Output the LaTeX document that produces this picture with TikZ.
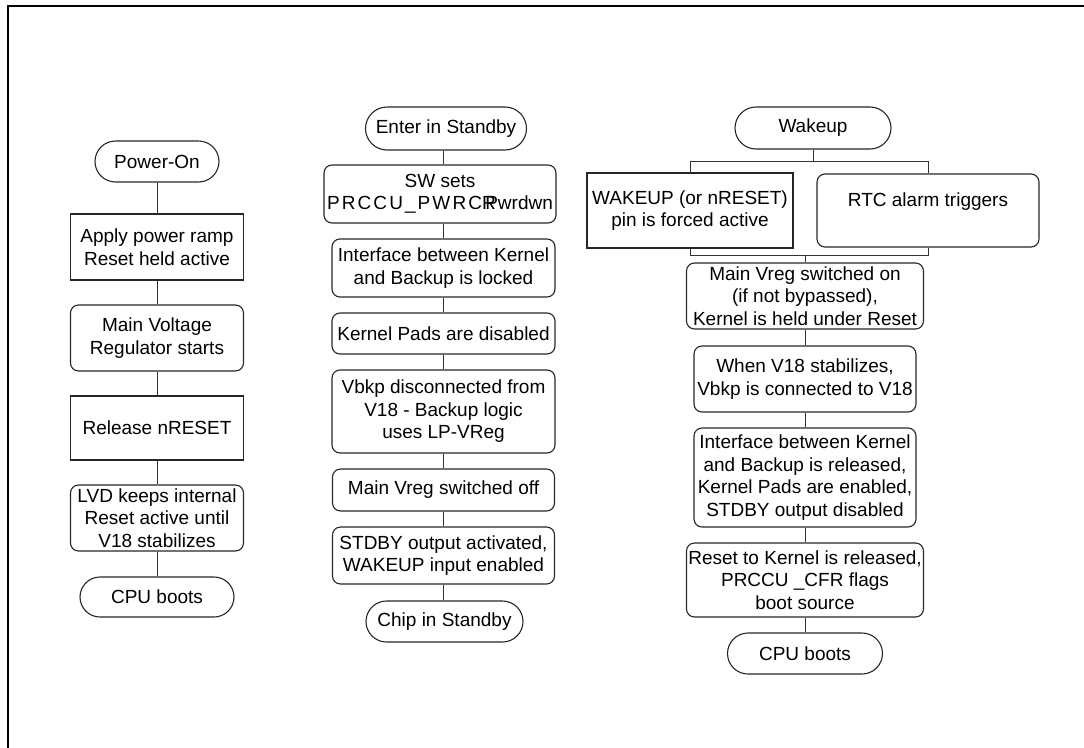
\documentclass[tikz,border=0pt]{standalone}
\usepackage{fontspec}
\setmainfont{Liberation Sans}
\usetikzlibrary{shapes.misc}
\begin{document}
\begin{tikzpicture}[x=1pt,y=-1pt,
  txt/.style={font=\fontsize{19}{22.5}\selectfont, align=center, inner sep=0pt,
    line width=1.1pt, draw=black!85, text=black},
  size/.style 2 args={minimum width=#1pt, minimum height=#2pt},
  sqbox/.style={txt, rectangle},
  rbox/.style={txt, rectangle, rounded corners=8pt},
  term/.style={txt, rounded rectangle},
  link/.style={line width=1pt, draw=black!80}]
\useasboundingbox (0,0) rectangle (1084,747);

% outer frame
\draw[line width=2.5pt] (8,748) -- (8,6) -- (1085,6);

% ---------- power-on sequence ----------
\node[term,  size={124}{41}] (pon)  at (157,161.5) {Power-On};
\node[sqbox, size={173}{66}] (ramp) at (157,247)   {Apply power ramp\\Reset held active};
\node[rbox,  size={173}{66}] (mvr)  at (157,338)   {Main Voltage\\Regulator starts};
\node[sqbox, size={173}{64}] (rel)  at (157,428)   {Release nRESET};
\node[rbox,  size={173}{66}] (lvd)  at (157,518)   {LVD keeps internal\\Reset active until\\V18 stabilizes};
\node[term,  size={154}{40}] (cpua) at (157,597)   {CPU boots};

\foreach \a/\b in {pon/ramp, ramp/mvr, mvr/rel, rel/lvd, lvd/cpua}
  \draw[link] (\a.south) -- (\b.north);

% ---------- standby entry ----------
\node[term, size={161}{43}] (ens) at (446,128.5) {Enter in Standby};
\node[rbox, size={232}{58}] (sw)  at (440,194)
  {SW sets\\{\addfontfeature{LetterSpace=11}PRCCU\_PWRC}R\kern-0.55em Pwrdwn};
\node[rbox, size={223}{58}] (ifl) at (443.5,268)   {Interface between Kernel\\and Backup is locked};
\node[rbox, size={223}{41}] (kpd) at (443.5,333.5) {Kernel Pads are disabled};
\node[rbox, size={223}{83}] (vbk) at (443.5,411.5) {Vbkp disconnected from\\V18 - Backup logic\\uses LP-VReg};
\node[rbox, size={222}{42}] (mvo) at (443.5,490)   {Main Vreg switched off};
\node[rbox, size={222}{57}] (stb) at (443.5,555.5) {STDBY output activated,\\WAKEUP input enabled};
\node[term, size={157}{41}] (cis) at (444.5,621.5) {Chip in Standby};

\draw[link] (ens.south -| ifl.north) -- (ifl.north |- sw.north);
\foreach \a/\b in {sw/ifl, ifl/kpd, kpd/vbk, vbk/mvo, mvo/stb, stb/cis}
  \draw[link] (\a.south -| ifl.north) -- (\b.north -| ifl.north);

% ---------- wakeup sequence ----------
\node[term,  size={156}{42}] (wak) at (813,128) {Wakeup};
\node[sqbox, size={206}{75}] (wup) at (690,210.5) {WAKEUP (or nRESET)\\pin is forced active};
\node[rbox,  size={222}{73}] (rtc) at (928,210.5) {RTC alarm triggers\\\mbox{}};
\node[rbox,  size={237}{66}] (mvs) at (805,296)   {Main Vreg switched on\\(if not bypassed),\\Kernel is held under Reset};
\node[rbox,  size={222}{66}] (v18) at (805,379)   {When V18 stabilizes,\\Vbkp is connected to V18};
\node[rbox,  size={222}{99}] (ifr) at (805,477.5) {Interface between Kernel\\and Backup is released,\\Kernel Pads are enabled,\\STDBY output disabled};
\node[rbox,  size={237}{74}] (rtk) at (805,580)   {Reset to Kernel is released,\\PRCCU \_CFR flags\\boot source};
\node[term,  size={155}{41}] (cpub) at (805,653.5) {CPU boots};

% split and merge of the two wakeup sources
\coordinate (split) at (813,161);
\coordinate (merge) at (805,255);
\draw[link] (wak.south) -- (split);
\draw[link] (wup.north) -- (wup.north |- split) -- (rtc.north |- split) -- (rtc.north);
\draw[link] (wup.south) -- (wup.south |- merge) -- (rtc.south |- merge) -- (rtc.south);
\draw[link] (merge) -- (mvs.north);

\foreach \a/\b in {mvs/v18, v18/ifr, ifr/rtk, rtk/cpub}
  \draw[link] (\a.south) -- (\b.north);
\end{tikzpicture}
\end{document}
